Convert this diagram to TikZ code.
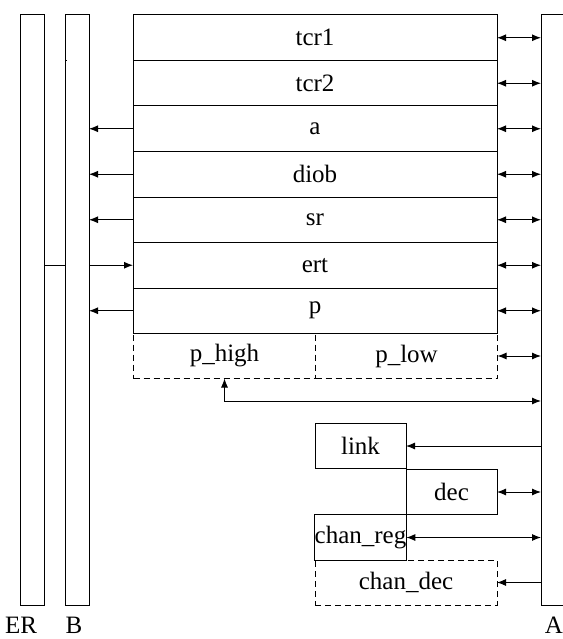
\documentclass[tikz,border=0pt]{standalone}
\usepackage{fontspec}
\setmainfont{Liberation Serif}
\usetikzlibrary{arrows.meta}
\begin{document}
\begin{tikzpicture}[x=1pt,y=-1pt,
  every node/.style={inner sep=0pt,outer sep=0pt,font=\fontsize{25}{28}\selectfont},
  bar/.style={draw,line width=1pt,minimum width=24pt,minimum height=590pt},
  reg/.style={draw,line width=1pt,minimum width=364pt,minimum height=45.5pt},
  half/.style={draw,dashed,dash pattern=on 6pt off 4pt,line width=0.8pt,minimum width=182pt,minimum height=45pt},
  unit/.style={draw,line width=1pt,minimum width=91pt,minimum height=45.5pt},
  conn/.style={line width=1pt},
  tip/.style={-{Latex[length=9pt,width=7pt]}},
  both/.style={{Latex[length=9pt,width=7pt]}-{Latex[length=9pt,width=7pt]}},
  lbl/.style={anchor=base}]
\useasboundingbox (0,0) rectangle (562,639);

% vertical buses
\node[bar] (ER) at (32,310) {};
\node[bar] (B) at (77,310) {};
\node[bar,minimum width=25pt] (A) at (553.5,310) {};

% register stack
\node[reg] (tcr1) at (315,37.75) {tcr1};
\node[reg] (tcr2) at (315,83.25) {tcr2};
\node[reg] (a) at (315,128.75) {a};
\node[reg] (diob) at (315,174.25) {diob};
\node[reg] (sr) at (315,219.75) {sr};
\node[reg] (ert) at (315,265.25) {ert};
\node[reg] (p) at (315,310.75) {p};
\node[half] (phigh) at (224.5,356) {p\_high};
\node[half] (plow) at (406.5,356) {p\_low};

% channel units
\node[unit] (link) at (360.5,446) {link};
\node[unit] (dec) at (451.5,492) {dec};
\node[unit] (chanreg) at (360.5,537.5) {chan\_reg};
\node[half] (chandec) at (406,582.5) {chan\_dec};

% bus labels
\node[lbl] (erl) at (21,633) {ER};
\node[lbl] (bl) at (74,633) {B};
\node[lbl] (al) at (554,633) {A};

% register reads onto bus B
\foreach \r in {a,diob,sr,p}
  \draw[conn,tip] (\r.west) -- (\r.west -| B.east);
\draw[conn,tip] (ert.west -| B.east) -- (ert.west);
\draw[conn] (ert.west -| ER.east) -- (ert.west -| B.west);
\draw[conn] (B.west |- tcr1.south) -- ++(2,0);

% register links to bus A
\foreach \r in {tcr1,tcr2,a,diob,sr,ert,p,plow}
  \draw[conn,both] (\r.east) -- (\r.east -| A.west);
\coordinate (turn) at (224.5,401);
\draw[conn,both] (phigh.south) -- (turn) -- (turn -| A.west);

% channel unit links to bus A
\draw[conn,tip] (link.east -| A.west) -- (link.east);
\draw[conn,both] (dec.east) -- (dec.east -| A.west);
\draw[conn,both] (chanreg.east) -- (chanreg.east -| A.west);
\draw[conn,tip] (chandec.east -| A.west) -- (chandec.east);
\end{tikzpicture}
\end{document}
